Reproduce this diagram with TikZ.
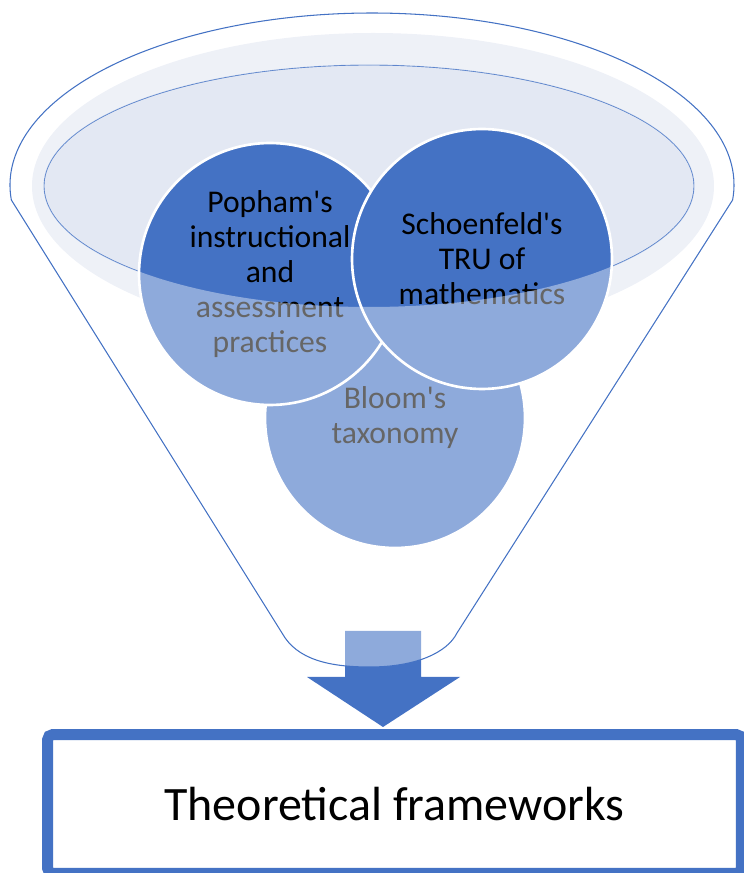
\documentclass[tikz,border=0pt]{standalone}
\usepackage{fontspec}
\setmainfont{Carlito}
\usepackage{tikz}
\usetikzlibrary{arrows.meta,positioning}
\definecolor{funnelblue}{HTML}{4472C4}
\definecolor{mouthfill}{HTML}{E3E8F3}

\begin{document}
\begin{tikzpicture}[x=0.02cm, y=0.02cm,
  idea/.style={circle, fill=funnelblue, draw=white, line width=1.5pt, minimum size=5.2cm,
    align=center, font=\fontsize{18}{20}\selectfont, inner sep=0pt},
  frame/.style={draw=funnelblue, fill=white, line width=0.22cm, rounded corners=3pt,
    minimum width=13.88cm, minimum height=2.78cm, font=\fontsize{27.3}{32}\selectfont}]
  \useasboundingbox (0,0) rectangle (744,873);
  \clip (0,0) rectangle (744,873);
  % mouth of the funnel
  \fill[mouthfill] (373,687) ellipse [x radius=341, y radius=153];
  \draw[funnelblue, line width=0.5pt] (369,687) ellipse [x radius=325, y radius=121];
  % arrow out of the funnel
  \fill[funnelblue] (345,242) -- (421,242) -- (421,196) -- (460,196) -- (383,146)
    -- (307,196) -- (345,196) -- cycle;
  % the three frameworks
  \node[idea] (bloom) at (395,455) {Bloom\textquotesingle s\\taxonomy};
  \node[idea, minimum size=5.24cm] (popham) at (270,599)
    {Popham\textquotesingle s\\instructional\\and\\assessment\\practices};
  \node[idea] (schoenfeld) at (482,614) {Schoenfeld\textquotesingle s\\TRU of\\mathematics};
  % body of the funnel, seen through
  \fill[white, fill opacity=0.4, even odd rule]
    (732.6,673) arc[start angle=-5, end angle=185, x radius=362, y radius=172]
    -- (282,240) .. controls (297,213) and (330,206) .. (370,206)
    .. controls (415,206) and (447,220) .. (457,240) -- cycle
    (369,687) ellipse [x radius=325, y radius=121];
  \draw[funnelblue, line width=0.6pt]
    (732.6,673) arc[start angle=-5, end angle=185, x radius=362, y radius=172]
    -- (282,240) .. controls (297,213) and (330,206) .. (370,206)
    .. controls (415,206) and (447,220) .. (457,240) -- cycle;
  \node[frame] (result) at (394.5,69) {Theoretical frameworks};
\end{tikzpicture}
\end{document}
